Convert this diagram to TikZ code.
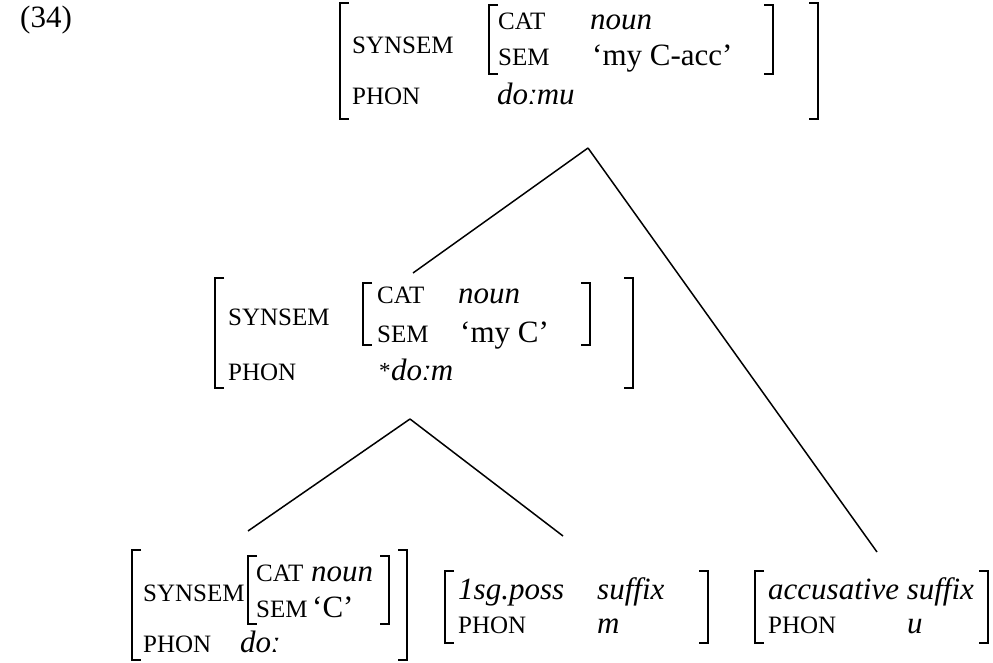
\documentclass[tikz,border=0pt]{standalone}
\usepackage{fontspec}
\setmainfont{Liberation Serif}
\begin{document}
\begin{tikzpicture}[x=1pt,y=-1pt,
  main/.style={inner sep=0pt,anchor=base west,font=\fontsize{31}{31}\selectfont},
  lab/.style={inner sep=0pt,anchor=base west,font=\fontsize{25}{25}\selectfont},
  starlab/.style={inner sep=0pt,anchor=base west,font=\fontsize{23}{23}\selectfont},
  brk/.style={line width=1.5pt},
  branch/.style={line width=1.5pt}]
\useasboundingbox (0,0) rectangle (993,663);

\node[main] (num) at (20,28) {(34)};

% ---------- top AVM ----------
\draw[brk] (349,3) -- (340,3) -- (340,119) -- (349,119);
\draw[brk] (809,3) -- (818,3) -- (818,119) -- (809,119);
\node[lab] (t-syn) at (352,54) {SYNSEM};
\node[lab] (t-phon) at (352,105) {PHON};
\draw[brk] (498,5) -- (489,5) -- (489,74) -- (498,74);
\draw[brk] (764,5) -- (773,5) -- (773,74) -- (764,74);
\node[lab] (t-cat) at (498,30) {CAT};
\node[main] (t-noun) at (590,30) {\itshape noun};
\node[lab] (t-sem) at (498,66) {SEM};
\node[main] (t-semv) at (592,66) {‘my C-acc’};
\node[main] (t-phonv) at (497,105) {\itshape doːmu};

% ---------- middle AVM ----------
\draw[brk] (224,278) -- (215,278) -- (215,388) -- (224,388);
\draw[brk] (624,278) -- (633,278) -- (633,388) -- (624,388);
\node[lab] (m-syn) at (228,325) {SYNSEM};
\node[lab] (m-phon) at (228,380) {PHON};
\draw[brk] (372,283) -- (363,283) -- (363,345) -- (372,345);
\draw[brk] (581,283) -- (590,283) -- (590,345) -- (581,345);
\node[lab] (m-cat) at (377,303) {CAT};
\node[main] (m-noun) at (458,303) {\itshape noun};
\node[lab] (m-sem) at (377,342) {SEM};
\node[main] (m-semv) at (460,342) {‘my C’};
\node[starlab] (m-star) at (379,378) {*};
\node[main] (m-phonv) at (391,380) {\itshape doːm};

% ---------- bottom left AVM ----------
\draw[brk] (141,550) -- (132,550) -- (132,660) -- (141,660);
\draw[brk] (398,550) -- (407,550) -- (407,660) -- (398,660);
\node[lab] (l-syn) at (143,601) {SYNSEM};
\node[lab] (l-phon) at (143,652) {PHON};
\draw[brk] (257,556) -- (248,556) -- (248,624) -- (257,624);
\draw[brk] (380,556) -- (389,556) -- (389,624) -- (380,624);
\node[lab] (l-cat) at (256,581) {CAT};
\node[main] (l-noun) at (311,581) {\itshape noun};
\node[lab] (l-sem) at (256,617) {SEM};
\node[main] (l-semv) at (312,617) {‘C’};
\node[main] (l-phonv) at (240,652) {\itshape doː};

% ---------- bottom middle AVM ----------
\draw[brk] (454,571) -- (445,571) -- (445,643) -- (454,643);
\draw[brk] (699,571) -- (708,571) -- (708,643) -- (699,643);
\node[main] (p-name) at (458,599) {\itshape 1sg.poss};
\node[main] (p-suf) at (597,599) {\itshape suffix};
\node[lab] (p-phon) at (458,633) {PHON};
\node[main] (p-phonv) at (597,633) {\itshape m};

% ---------- bottom right AVM ----------
\draw[brk] (764,571) -- (755,571) -- (755,643) -- (764,643);
\draw[brk] (979,571) -- (988,571) -- (988,643) -- (979,643);
\node[main] (a-name) at (768,599) {\itshape accusative suffix};
\node[lab] (a-phon) at (768,633) {PHON};
\node[main] (a-phonv) at (907,633) {\itshape u};

% ---------- tree branches ----------
\coordinate (apexTop) at (588,148);
\coordinate (topL) at (413,273);
\coordinate (topR) at (877,552);
\coordinate (apexMid) at (410,419);
\coordinate (midL) at (248,531);
\coordinate (midR) at (563,536);
\draw[branch] (apexTop) -- (topL);
\draw[branch] (apexTop) -- (topR);
\draw[branch] (apexMid) -- (midL);
\draw[branch] (apexMid) -- (midR);
\end{tikzpicture}
\end{document}
